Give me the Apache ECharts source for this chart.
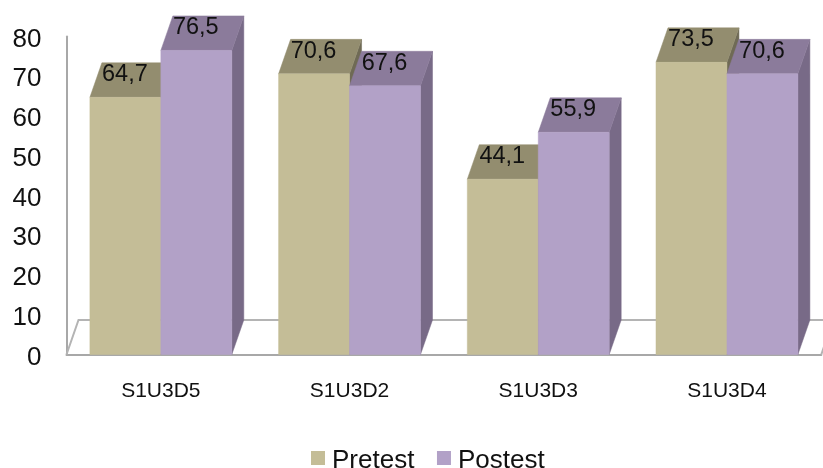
<!DOCTYPE html>
<html><head><meta charset="utf-8">
<style>html,body{margin:0;padding:0;background:#fff}#c{width:823px;height:468px}</style>
<script src="https://cdn.jsdelivr.net/npm/echarts@6/dist/echarts.min.js"></script>
</head><body><div id="c"></div>
<script>
const categories = ['S1U3D5','S1U3D2','S1U3D3','S1U3D4'];
const pretest = [64.7,70.6,44.1,73.5];
const postest = [76.5,67.6,55.9,70.6];
const yTicks = {min:0,max:80,interval:10};

const FONT='"Liberation Sans",Arial,sans-serif';
const DX=12, DY=-34.5, BW=0.376;
function poly(pts,fill){return {type:'polygon',shape:{points:pts},style:{fill:fill,stroke:fill,lineWidth:0.5}};}
function bar3d(side,front,top,dark){
  return function(params,api){
    const i=api.value(0), v=api.value(1);
    const band=api.size([1,0])[0], w=band*BW;
    const p=api.coord([i,v]), b=api.coord([i,0]);
    const x0=side<0?p[0]-w:p[0], x1=x0+w, yt=p[1], yb=b[1];
    return {type:'group',children:[
      poly([[x1,yt],[x1+DX,yt+DY],[x1+DX,yb+DY],[x1,yb]],dark),
      poly([[x0,yt],[x0+DX,yt+DY],[x1+DX,yt+DY],[x1,yt]],top),
      poly([[x0,yt],[x1,yt],[x1,yb],[x0,yb]],front),
      {type:'text',style:{text:String(v).replace('.',','),x:(x0+x1)/2-0.5,y:yt-22.5,align:'center',verticalAlign:'middle',
        font:'23.5px '+FONT,fill:'#111'}}
    ]};
  };
}
function floor(params,api){
  const c=params.coordSys, l=c.x, r=c.x+c.width, y=c.y+c.height;
  const st={fill:'none',stroke:'#b4b4b4',lineWidth:2};
  return {type:'polyline',shape:{points:[[l,y],[l+DX,y+DY],[r+DX,y+DY]]},style:st};
}
function floorRight(params,api){
  const c=params.coordSys, r=c.x+c.width, y=c.y+c.height;
  return {type:'line',shape:{x1:r,y1:y,x2:r+DX,y2:y+DY},style:{stroke:'#b4b4b4',lineWidth:2}};
}
const chart=echarts.init(document.getElementById('c'),null,{renderer:'canvas'});
chart.setOption({
  animation:false,backgroundColor:'#fff',
  grid:{left:66.5,right:1.7,top:36.5,bottom:113.5,containLabel:false},
  legend:{left:311,top:448,padding:0,itemWidth:14,itemHeight:14,itemGap:22.6,icon:'rect',data:['Pretest','Postest'],
    formatter:'{s|{name}}',
    textStyle:{rich:{s:{fontFamily:FONT,fontSize:26,color:'#111',padding:[6,0,0,2]}}}},
  xAxis:{type:'category',data:categories,axisTick:{show:false},
    axisLine:{lineStyle:{color:'#a8a8a8',width:2}},
    axisLabel:{fontFamily:FONT,fontSize:21,color:'#111',margin:26}},
  yAxis:{type:'value',min:yTicks.min,max:yTicks.max,interval:yTicks.interval,splitLine:{show:false},axisTick:{show:false},
    axisLine:{show:true,lineStyle:{color:'#a8a8a8',width:2}},
    axisLabel:{margin:25,formatter:'{s|{value}}',rich:{s:{fontFamily:FONT,fontSize:26,color:'#111',padding:[6,0,0,0]}}}},
  series:[
    {type:'custom',name:'floor',renderItem:floor,data:[0],silent:true,z:1,encode:{x:0,y:0}},
    {type:'custom',name:'floorR',renderItem:floorRight,data:[0],silent:true,z:1,encode:{x:0,y:0}},
    {type:'custom',name:'Pretest',z:2,renderItem:bar3d(-1,'#c4bd97','#938d6f','#6f6a55'),itemStyle:{color:'#c4bd97'},
      encode:{x:0,y:1},data:pretest.map((v,i)=>[i,v])},
    {type:'custom',name:'Postest',z:3,renderItem:bar3d(1,'#b2a1c7','#8b7b9b','#786a87'),itemStyle:{color:'#b2a1c7'},
      encode:{x:0,y:1},data:postest.map((v,i)=>[i,v])}
  ]
});
</script></body></html>
